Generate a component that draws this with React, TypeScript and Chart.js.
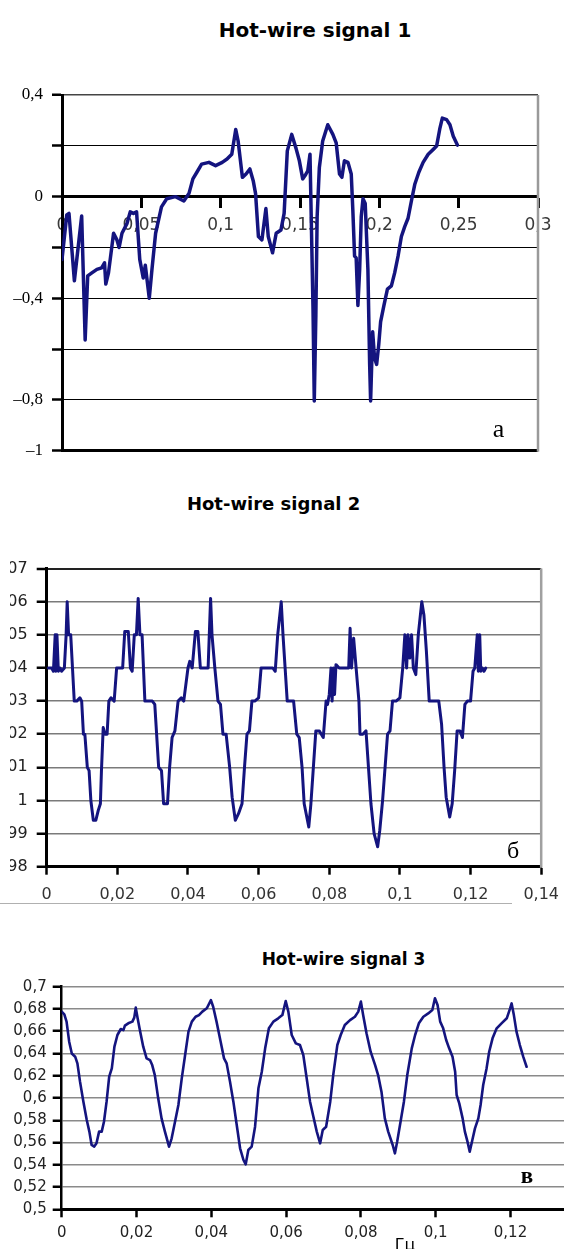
import React, { useEffect, useRef } from 'react';
import { Chart, registerables } from 'chart.js';

Chart.register(...registerables);

// ---------- Hot-wire signal 1 ----------
const sig1Time = [0, 0.003, 0.0044, 0.0078, 0.0124, 0.0146, 0.0162, 0.0188, 0.022, 0.025, 0.0268, 0.0276, 0.0293, 0.0325, 0.0346, 0.036, 0.0378, 0.041, 0.043, 0.045, 0.047, 0.049, 0.0512, 0.0525, 0.055, 0.0567, 0.059, 0.0627, 0.066, 0.0715, 0.0768, 0.08, 0.0825, 0.085, 0.088, 0.0926, 0.0968, 0.101, 0.104, 0.107, 0.1095, 0.111, 0.1137, 0.116, 0.1184, 0.1205, 0.122, 0.1238, 0.126, 0.1285, 0.13, 0.1327, 0.135, 0.138, 0.14, 0.142, 0.1448, 0.1475, 0.1496, 0.1517, 0.1532, 0.1549, 0.1563, 0.1574, 0.1582, 0.159, 0.16, 0.1608, 0.1622, 0.1643, 0.1675, 0.1707, 0.1728, 0.1749, 0.1764, 0.178, 0.1802, 0.1823, 0.1833, 0.1844, 0.1854, 0.1865, 0.1876, 0.1886, 0.1897, 0.1911, 0.1928, 0.1939, 0.1945, 0.1958, 0.197, 0.1983, 0.1996, 0.2008, 0.2029, 0.2051, 0.2076, 0.2097, 0.2118, 0.2139, 0.216, 0.2181, 0.2203, 0.2224, 0.2249, 0.2276, 0.2308, 0.234, 0.2361, 0.2382, 0.2397, 0.2424, 0.2445, 0.2466, 0.2492];
const sig1Value = [-0.247, -0.072, -0.066, -0.331, -0.076, -0.564, -0.312, -0.3, -0.286, -0.28, -0.26, -0.344, -0.3, -0.144, -0.17, -0.2, -0.144, -0.105, -0.06, -0.066, -0.06, -0.247, -0.32, -0.27, -0.4, -0.286, -0.144, -0.04, -0.008, 0.0, -0.017, 0.012, 0.07, 0.096, 0.128, 0.135, 0.122, 0.135, 0.148, 0.167, 0.264, 0.219, 0.076, 0.089, 0.109, 0.063, 0.012, -0.157, -0.17, -0.047, -0.157, -0.221, -0.144, -0.131, -0.066, 0.18, 0.245, 0.19, 0.141, 0.07, 0.083, 0.102, 0.167, -0.183, -0.44, -0.804, -0.467, -0.079, 0.115, 0.219, 0.283, 0.245, 0.212, 0.089, 0.076, 0.141, 0.135, 0.089, -0.053, -0.234, -0.241, -0.428, -0.286, -0.079, -0.008, -0.027, -0.286, -0.66, -0.804, -0.532, -0.636, -0.66, -0.584, -0.493, -0.428, -0.364, -0.351, -0.299, -0.234, -0.157, -0.118, -0.085, -0.014, 0.05, 0.096, 0.135, 0.167, 0.186, 0.199, 0.27, 0.309, 0.303, 0.283, 0.238, 0.203];
const sig1YLabeled = [0.4, 0, -0.4, -0.8, -1];

// ---------- Hot-wire signal 2 ----------
const sig2Time = [0.0005, 0.0014, 0.0019, 0.0024, 0.0026, 0.0029, 0.0033, 0.0038, 0.0042, 0.005, 0.0055, 0.0058, 0.0062, 0.0068, 0.0073, 0.0078, 0.0085, 0.0094, 0.0099, 0.0104, 0.0108, 0.0115, 0.012, 0.0125, 0.0132, 0.0139, 0.0146, 0.0152, 0.0155, 0.016, 0.0165, 0.0171, 0.0176, 0.0182, 0.0191, 0.0198, 0.0207, 0.0215, 0.0221, 0.0231, 0.0237, 0.0242, 0.0248, 0.0254, 0.0259, 0.0264, 0.027, 0.0278, 0.0292, 0.0299, 0.0306, 0.0317, 0.0325, 0.0331, 0.0342, 0.0348, 0.0355, 0.0363, 0.0372, 0.0381, 0.0388, 0.04, 0.0405, 0.0412, 0.0421, 0.0428, 0.0435, 0.0447, 0.0457, 0.0464, 0.0468, 0.0476, 0.0485, 0.0492, 0.0499, 0.0508, 0.0518, 0.0525, 0.0534, 0.0543, 0.0553, 0.056, 0.0567, 0.0574, 0.0581, 0.0589, 0.06, 0.0607, 0.0626, 0.064, 0.0647, 0.0654, 0.0664, 0.0669, 0.0675, 0.0681, 0.0692, 0.0699, 0.0708, 0.0715, 0.0723, 0.0729, 0.0742, 0.0748, 0.0755, 0.0762, 0.0772, 0.0783, 0.0791, 0.0795, 0.08, 0.0805, 0.0808, 0.0812, 0.0815, 0.0819, 0.0828, 0.0842, 0.0855, 0.0859, 0.0863, 0.0869, 0.0876, 0.0884, 0.0887, 0.0895, 0.0904, 0.0911, 0.0918, 0.0927, 0.0937, 0.0943, 0.0951, 0.0958, 0.0965, 0.0972, 0.0979, 0.0989, 0.1, 0.1008, 0.1014, 0.1019, 0.1023, 0.1028, 0.1033, 0.1038, 0.1045, 0.1052, 0.1062, 0.1068, 0.1075, 0.1083, 0.1097, 0.111, 0.1118, 0.1125, 0.1131, 0.1141, 0.1148, 0.1155, 0.1162, 0.117, 0.1177, 0.1184, 0.1191, 0.12, 0.1207, 0.1212, 0.1219, 0.1222, 0.1226, 0.1229, 0.1233, 0.1238, 0.1243];
const sig2Value = [1.004, 1.004, 1.0039, 1.005, 1.0039, 1.005, 1.0039, 1.004, 1.0039, 1.004, 1.005, 1.006, 1.005, 1.005, 1.004, 1.003, 1.003, 1.0031, 1.003, 1.002, 1.002, 1.001, 1.0009, 1.0, 0.9994, 0.9994, 0.9997, 0.9999, 1.0009, 1.0022, 1.002, 1.002, 1.003, 1.0031, 1.003, 1.004, 1.004, 1.004, 1.0051, 1.0051, 1.004, 1.0039, 1.005, 1.005, 1.0061, 1.005, 1.005, 1.003, 1.003, 1.003, 1.0029, 1.001, 1.0009, 0.9999, 0.9999, 1.001, 1.0019, 1.0021, 1.003, 1.0031, 1.003, 1.004, 1.0042, 1.004, 1.0051, 1.0051, 1.004, 1.004, 1.004, 1.0061, 1.005, 1.004, 1.003, 1.0029, 1.002, 1.002, 1.001, 1.0001, 0.9994, 0.9996, 0.9999, 1.001, 1.002, 1.0021, 1.003, 1.003, 1.0031, 1.004, 1.004, 1.004, 1.0039, 1.005, 1.006, 1.005, 1.004, 1.003, 1.003, 1.003, 1.002, 1.0019, 1.001, 0.9999, 0.9992, 0.9999, 1.001, 1.0021, 1.0021, 1.0019, 1.003, 1.0029, 1.0032, 1.004, 1.003, 1.004, 1.0032, 1.0041, 1.004, 1.004, 1.004, 1.0052, 1.004, 1.0049, 1.004, 1.003, 1.002, 1.002, 1.0021, 1.001, 0.9999, 0.999, 0.9986, 0.9991, 1.0, 1.001, 1.002, 1.0021, 1.003, 1.003, 1.0031, 1.004, 1.005, 1.004, 1.005, 1.0043, 1.005, 1.004, 1.0038, 1.005, 1.006, 1.0056, 1.0045, 1.003, 1.003, 1.003, 1.0023, 1.001, 1.0001, 0.9995, 0.9999, 1.0009, 1.0021, 1.0021, 1.0019, 1.0029, 1.003, 1.003, 1.0039, 1.004, 1.005, 1.0039, 1.005, 1.0039, 1.004, 1.0039, 1.004];

// ---------- Hot-wire signal 3 ----------
const sig3Time = [0, 0.0007, 0.0013, 0.002, 0.0027, 0.0036, 0.0042, 0.0049, 0.0058, 0.0067, 0.0074, 0.008, 0.0087, 0.0093, 0.01, 0.0107, 0.0113, 0.012, 0.0127, 0.0134, 0.0141, 0.0149, 0.0158, 0.0165, 0.0169, 0.0178, 0.0189, 0.0194, 0.0198, 0.0203, 0.0209, 0.0218, 0.0227, 0.0236, 0.0242, 0.0249, 0.0258, 0.0267, 0.0276, 0.0287, 0.0294, 0.0303, 0.0312, 0.0321, 0.033, 0.0339, 0.0348, 0.0358, 0.0367, 0.0376, 0.0388, 0.0399, 0.0405, 0.0414, 0.0425, 0.0434, 0.0441, 0.045, 0.0459, 0.0468, 0.0477, 0.0486, 0.0492, 0.0499, 0.0508, 0.0517, 0.0526, 0.0535, 0.0544, 0.0554, 0.0566, 0.0579, 0.059, 0.0599, 0.0606, 0.0615, 0.0626, 0.0637, 0.0646, 0.0655, 0.0664, 0.0673, 0.0682, 0.0691, 0.0698, 0.0707, 0.0718, 0.0726, 0.0737, 0.0746, 0.0757, 0.0771, 0.0784, 0.0793, 0.08, 0.0806, 0.0815, 0.0826, 0.0838, 0.0846, 0.0855, 0.0864, 0.0873, 0.0885, 0.0891, 0.0897, 0.0906, 0.0915, 0.0924, 0.0936, 0.0945, 0.0955, 0.0967, 0.098, 0.0991, 0.0998, 0.1005, 0.1012, 0.102, 0.1028, 0.1036, 0.1045, 0.1052, 0.1056, 0.1063, 0.1072, 0.1078, 0.1085, 0.1091, 0.1098, 0.1105, 0.1114, 0.112, 0.1127, 0.1136, 0.1143, 0.1152, 0.1163, 0.1176, 0.119, 0.1199, 0.1203, 0.1209, 0.1216, 0.1225, 0.1234, 0.1243];
const sig3Value = [0.6776, 0.6752, 0.6686, 0.6506, 0.64, 0.6371, 0.6311, 0.6147, 0.5967, 0.5802, 0.5698, 0.5578, 0.5563, 0.5593, 0.5698, 0.5698, 0.5787, 0.5967, 0.6192, 0.6266, 0.6461, 0.6566, 0.662, 0.661, 0.665, 0.6671, 0.6686, 0.6722, 0.6812, 0.6716, 0.661, 0.6461, 0.6356, 0.6341, 0.6296, 0.6206, 0.5997, 0.5817, 0.5698, 0.5563, 0.5638, 0.5787, 0.5937, 0.6176, 0.6386, 0.6596, 0.6686, 0.673, 0.6745, 0.6776, 0.6806, 0.688, 0.682, 0.6686, 0.6506, 0.6356, 0.6311, 0.6147, 0.5967, 0.5757, 0.5548, 0.5443, 0.5404, 0.5533, 0.5563, 0.5742, 0.6087, 0.6236, 0.6446, 0.6626, 0.6686, 0.6716, 0.6745, 0.6871, 0.6776, 0.6566, 0.6491, 0.6476, 0.6386, 0.6177, 0.5967, 0.5832, 0.5698, 0.5593, 0.5713, 0.5742, 0.5967, 0.6206, 0.6476, 0.6566, 0.6656, 0.67, 0.673, 0.6776, 0.6866, 0.6745, 0.6581, 0.6416, 0.6296, 0.6206, 0.6057, 0.5817, 0.5698, 0.5578, 0.5503, 0.5608, 0.5787, 0.5967, 0.6206, 0.6446, 0.6566, 0.6671, 0.673, 0.676, 0.679, 0.6896, 0.6836, 0.6686, 0.6626, 0.6521, 0.6446, 0.6371, 0.6236, 0.6027, 0.5952, 0.5817, 0.5698, 0.5608, 0.5518, 0.5623, 0.5727, 0.5817, 0.5937, 0.6117, 0.6266, 0.6416, 0.6536, 0.6626, 0.6671, 0.6716, 0.6806, 0.685, 0.6745, 0.6596, 0.6476, 0.6371, 0.6281];

const titles = ['Hot-wire signal 1', 'Hot-wire signal 2', 'Hot-wire signal 3'];
const panelLetters = ['а', 'б', 'в'];
const unitLabel = 'Гц';

const NAVY = '#14147f';
const SANS = 'DejaVu Sans';
const SERIF = '"Liberation Serif", "Times New Roman", serif';

function fmt(v: number, dash = false): string {
  const r = Math.round(v * 100000) / 100000;
  const s = String(Math.abs(r)).replace('.', ',');
  if (r < 0) return (dash ? '\u2013' : '-') + s;
  return s;
}

const near = (a: number, b: number) => Math.abs(a - b) < 1e-7;

const framePlugin = {
  id: 'frame',
  beforeDatasetsDraw(chart: any, _args: any, opts: any) {
    if (!opts || !opts.right) return;
    const { ctx, chartArea: a } = chart;
    ctx.save();
    ctx.strokeStyle = opts.right.color;
    ctx.lineWidth = opts.right.width;
    ctx.beginPath();
    ctx.moveTo(a.right, a.top);
    ctx.lineTo(a.right, a.bottom + 1);
    ctx.stroke();
    ctx.restore();
  },
};

function pts(t: number[], v: number[]) {
  return t.map((x, i) => ({ x, y: v[i] }));
}

function config1(): any {
  return {
    type: 'line',
    data: {
      datasets: [
        {
          data: pts(sig1Time, sig1Value),
          borderColor: NAVY,
          borderWidth: 3.5,
          pointRadius: 0,
          tension: 0,
          borderJoinStyle: 'round',
          borderCapStyle: 'round',
        },
      ],
    },
    plugins: [framePlugin],
    options: {
      animation: false,
      responsive: false,
      maintainAspectRatio: false,
      layout: { padding: { left: 0, top: 25, right: 26, bottom: 14.5 } },
      plugins: {
        legend: { display: false },
        tooltip: { enabled: false },
        frame: { right: { color: '#9a9a9a', width: 2.5 } },
      },
      scales: {
        x: {
          type: 'linear',
          min: 0,
          max: 0.3,
          position: { y: 0 },
          ticks: {
            stepSize: 0.05,
            autoSkip: false,
            maxRotation: 0,
            padding: 9,
            color: '#3a3a3a',
            font: { family: SANS, size: 17 },
            callback: (v: number) => fmt(v),
          },
          grid: { drawOnChartArea: false, drawTicks: true, tickLength: 10, tickWidth: 3, tickColor: '#000' },
          border: { display: true, color: '#000', width: 3 },
        },
        y: {
          type: 'linear',
          min: -1,
          max: 0.4,
          ticks: {
            stepSize: 0.2,
            autoSkip: false,
            padding: 9,
            color: '#000',
            font: { family: SERIF, size: 17 },
            callback: (v: number) => (sig1YLabeled.some((l) => near(l, v)) ? fmt(v, true) : ''),
          },
          grid: {
            color: (c: any) => (c.tick && near(c.tick.value, 0.4) ? '#444' : '#000'),
            lineWidth: (c: any) => (c.tick && (near(c.tick.value, 0) || near(c.tick.value, -1)) ? 3 : c.tick && near(c.tick.value, 0.4) ? 1.5 : 1),
            tickLength: 10,
            tickWidth: 2.5,
            tickColor: '#000',
          },
          border: { display: true, color: '#000', width: 3 },
          afterFit: (s: any) => {
            s.width = 62;
          },
        },
      },
    },
  };
}

function config2(): any {
  return {
    type: 'line',
    data: {
      datasets: [
        {
          data: pts(sig2Time, sig2Value),
          borderColor: NAVY,
          borderWidth: 3,
          pointRadius: 0,
          tension: 0,
          borderJoinStyle: 'round',
          borderCapStyle: 'round',
        },
      ],
    },
    plugins: [framePlugin],
    options: {
      animation: false,
      responsive: false,
      maintainAspectRatio: false,
      layout: { padding: { left: 0, top: 12.4, right: 27.5, bottom: 0 } },
      plugins: {
        legend: { display: false },
        tooltip: { enabled: false },
        frame: { right: { color: '#a0a0a0', width: 2.5 } },
      },
      scales: {
        x: {
          type: 'linear',
          min: 0,
          max: 0.14,
          ticks: {
            stepSize: 0.02,
            autoSkip: false,
            maxRotation: 0,
            padding: 11,
            color: '#333',
            font: { family: SANS, size: 16 },
            callback: (v: number) => fmt(v),
          },
          grid: { drawOnChartArea: false, drawTicks: true, tickLength: 8, tickWidth: 2.5, tickColor: '#000' },
          border: { display: true, color: '#000', width: 3 },
          afterFit: (s: any) => {
            s.height = 40.3;
          },
        },
        y: {
          type: 'linear',
          min: 0.998,
          max: 1.007,
          ticks: {
            stepSize: 0.001,
            autoSkip: false,
            maxTicksLimit: 20,
            padding: 9,
            color: '#222',
            font: { family: SANS, size: 16 },
            callback: (v: number) => fmt(v),
          },
          grid: {
            color: (c: any) => (c.tick && near(c.tick.value, 1.007) ? '#222' : '#7a7a7a'),
            lineWidth: (c: any) => (c.tick && near(c.tick.value, 1.007) ? 2 : 1.5),
            tickLength: 10,
            tickWidth: 2.5,
            tickColor: '#000',
          },
          border: { display: true, color: '#000', width: 3 },
          afterFit: (s: any) => {
            s.width = 86.7;
          },
        },
      },
    },
  };
}

function config3(): any {
  return {
    type: 'line',
    data: {
      datasets: [
        {
          data: pts(sig3Time, sig3Value),
          borderColor: NAVY,
          borderWidth: 2.6,
          pointRadius: 0,
          tension: 0,
          borderJoinStyle: 'round',
          borderCapStyle: 'round',
        },
      ],
    },
    options: {
      animation: false,
      responsive: false,
      maintainAspectRatio: false,
      layout: { padding: { left: 0, top: 16.7, right: 14.7, bottom: 0 } },
      plugins: { legend: { display: false }, tooltip: { enabled: false } },
      scales: {
        x: {
          type: 'linear',
          min: 0,
          max: 0.14,
          ticks: {
            stepSize: 0.02,
            autoSkip: false,
            maxRotation: 0,
            padding: 7,
            color: '#222',
            font: { family: SANS, size: 15 },
            callback: (v: number) => (v > 0.13 ? '' : fmt(v)),
          },
          grid: { drawOnChartArea: false, drawTicks: true, tickLength: 8, tickWidth: 2.5, tickColor: '#000' },
          border: { display: true, color: '#000', width: 3 },
          afterFit: (s: any) => {
            s.height = 40.7;
          },
        },
        y: {
          type: 'linear',
          min: 0.5,
          max: 0.7,
          ticks: {
            stepSize: 0.02,
            autoSkip: false,
            maxTicksLimit: 20,
            padding: 6,
            color: '#222',
            font: { family: SANS, size: 15 },
            callback: (v: number) => fmt(v),
          },
          grid: {
            color: '#8a8a8a',
            lineWidth: 1.5,
            tickLength: 9,
            tickWidth: 2.5,
            tickColor: '#000',
          },
          border: { display: true, color: '#000', width: 2.5 },
          afterFit: (s: any) => {
            s.width = 61.7;
          },
        },
      },
    },
  };
}

function ChartCanvas({ make, left, top, width, height }: { make: () => any; left: number; top: number; width: number; height: number }) {
  const ref = useRef<HTMLCanvasElement>(null);
  useEffect(() => {
    const chart = new Chart(ref.current as HTMLCanvasElement, make());
    return () => chart.destroy();
  }, []);
  return (
    <canvas
      ref={ref}
      width={width}
      height={height}
      style={{ position: 'absolute', left, top, width, height, display: 'block' }}
    />
  );
}

function Title({ text, cx, top, size }: { text: string; cx: number; top: number; size: number }) {
  return (
    <div
      style={{
        position: 'absolute',
        left: cx - 160,
        width: 320,
        top,
        textAlign: 'center',
        fontFamily: SANS,
        fontWeight: 'bold',
        fontSize: size,
        lineHeight: 1,
        color: '#000',
        whiteSpace: 'nowrap',
      }}
    >
      {text}
    </div>
  );
}

function Letter({ text, cx, top, size, bold }: { text: string; cx: number; top: number; size: number; bold?: boolean }) {
  return (
    <div
      style={{
        position: 'absolute',
        left: cx - 20,
        width: 40,
        top,
        textAlign: 'center',
        fontFamily: SERIF,
        fontWeight: bold ? 'bold' : 'normal',
        fontSize: size,
        lineHeight: 1,
        color: '#000',
      }}
    >
      {text}
    </div>
  );
}

export default function App() {
  return (
    <div
      style={{
        position: 'fixed',
        left: 0,
        top: 0,
        width: 564,
        height: 1249,
        overflow: 'hidden',
        background: '#fff',
      }}
    >
      <Title text={titles[0]} cx={315} top={20.4} size={20} />
      <ChartCanvas make={config1} left={0} top={70} width={564} height={400} />
      <Letter text={panelLetters[0]} cx={498.5} top={415.6} size={26} />

      <Title text={titles[1]} cx={273.6} top={494.7} size={18} />
      <div style={{ position: 'absolute', left: 10, top: 540, width: 554, height: 380, overflow: 'hidden' }}>
        <ChartCanvas make={config2} left={-50} top={10} width={610} height={357} />
      </div>
      <div style={{ position: 'absolute', left: 0, top: 903, width: 512, height: 1, background: '#b0b0b0' }} />
      <Letter text={panelLetters[1]} cx={513} top={838.3} size={24} />

      <Title text={titles[2]} cx={343.5} top={951.1} size={17} />
      <ChartCanvas make={config3} left={0} top={970} width={600} height={280} />
      <Letter text={panelLetters[2]} cx={527} top={1164} size={23} bold />
      <div
        style={{
          position: 'absolute',
          left: 385,
          width: 40,
          top: 1237,
          textAlign: 'center',
          fontFamily: SANS,
          fontSize: 16,
          lineHeight: 1,
          color: '#000',
        }}
      >
        {unitLabel}
      </div>
    </div>
  );
}
